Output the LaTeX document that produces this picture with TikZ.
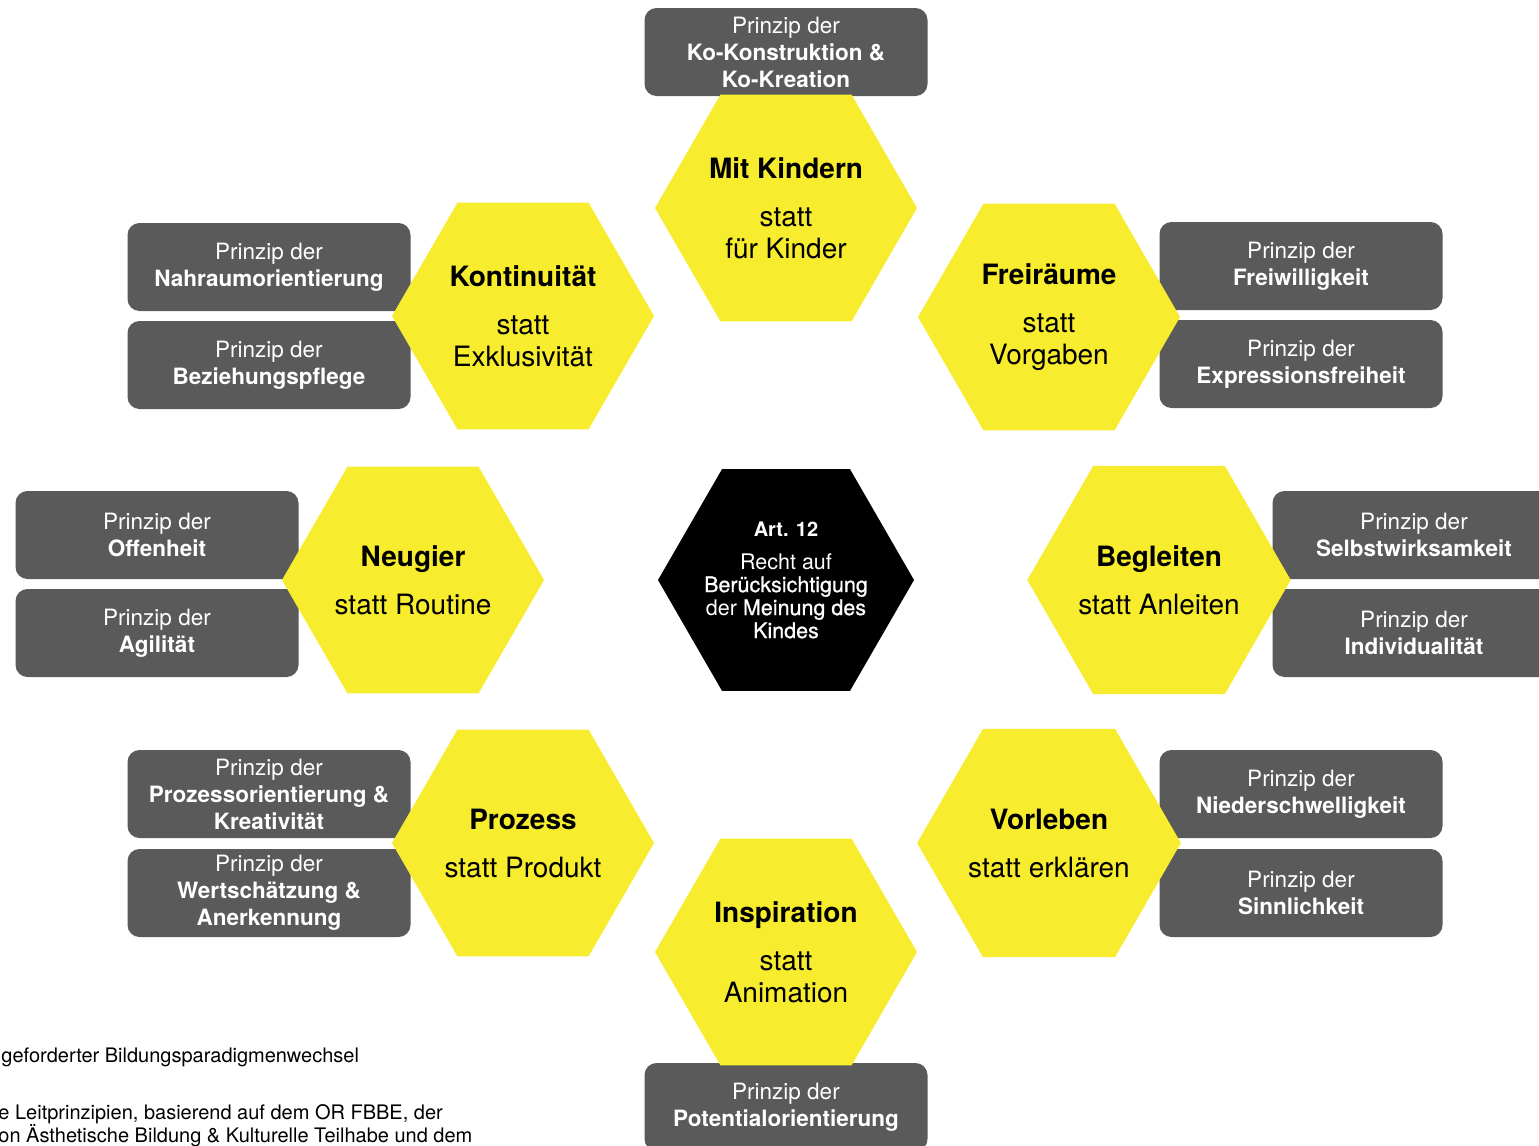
\documentclass[tikz,border=0pt]{standalone}
\usepackage{fontspec}
\setmainfont{TeX Gyre Heros}
\newfontfamily\medfont{TeX Gyre Heros}[FakeBold=0.8]
\usetikzlibrary{shapes.geometric}
\definecolor{hexyellow}{RGB}{247,236,46}
\definecolor{boxgray}{RGB}{90,90,90}
\tikzset{
prinzip/.style={rounded corners=6pt,fill=boxgray,text=white,
  minimum width=141.5pt,minimum height=44pt,inner sep=0pt,align=center,
  font=\fontsize{11.25}{13.5}\selectfont}
}
\begin{document}
\begin{tikzpicture}[x=0.5pt,y=-0.5pt,
hexa/.style={regular polygon,regular polygon sides=6,fill=hexyellow,
  inner sep=0pt,minimum size=131pt,align=center,
  font=\fontsize{14}{16}\selectfont}]
\path[use as bounding box,fill=white] (0,0) rectangle (1539,1146);

\begin{scope}
\tikzstyle{every node}=[prinzip]
\node (pKoKo) at (786,52) {Prinzip der\\\textbf{Ko-Konstruktion \&}\\\textbf{Ko-Kreation}};
\node (pNah) at (269,267) {Prinzip der\\\textbf{Nahraumorientierung}};
\node (pBez) at (269,365) {Prinzip der\\\textbf{Beziehungspflege}};
\node (pFrei) at (1301,266) {Prinzip der\\\textbf{Freiwilligkeit}};
\node (pExp) at (1301,364) {Prinzip der\\\textbf{Expressionsfreiheit}};
\node (pOff) at (157,535) {Prinzip der\\\textbf{Offenheit}};
\node (pAgi) at (157,633) {Prinzip der\\\textbf{Agilität}};
\node (pSelbst) at (1414,535) {Prinzip der\\\textbf{Selbstwirksamkeit}};
\node (pInd) at (1414,633) {Prinzip der\\\textbf{Individualität}};
\node (pProz) at (269,794) {Prinzip der\\\textbf{Prozessorientierung \&}\\\textbf{Kreativität}};
\node (pWert) at (269,893) {Prinzip der\\\textbf{Wertschätzung \&}\\\textbf{Anerkennung}};
\node (pNied) at (1301,794) {Prinzip der\\\textbf{Niederschwelligkeit}};
\node (pSinn) at (1301,893) {Prinzip der\\\textbf{Sinnlichkeit}};
\node (pPot) at (786,1107) {Prinzip der\\\textbf{Potentialorientierung}};
\end{scope}

\node[hexa] (hMit) at (786,208) {\textbf{Mit Kindern}\\[8pt]statt\\für Kinder};
\node[hexa] (hKon) at (523,316) {\textbf{Kontinuität}\\[8pt]statt\\Exklusivität};
\node[hexa] (hFrei) at (1049,317) {\textbf{Freiräume}\\[8pt]statt\\Vorgaben};
\node[hexa] (hNeu) at (413,580) {\textbf{Neugier}\\[8pt]statt Routine};
\node[hexa] (hBeg) at (1159,580) {\textbf{Begleiten}\\[8pt]statt Anleiten};
\node[hexa] (hPro) at (523,843) {\textbf{Prozess}\\[8pt]statt Produkt};
\node[hexa] (hVor) at (1049,843) {\textbf{Vorleben}\\[8pt]statt erklären};
\node[hexa] (hIns) at (786,952) {\textbf{Inspiration}\\[8pt]statt\\Animation};
\node[hexa,fill=black,minimum size=128pt] (hArt) at (786,580) {};
\node[text=white,align=center,inner sep=0pt,font=\fontsize{10.75}{11.5}\selectfont]
  (hArtText) at (hArt) {\textbf{\fontsize{10}{11.5}\selectfont Art. 12}\\[5pt]Recht auf\\{\medfont Berücksichtigung}\\der {\medfont Meinung des}\\{\medfont Kindes}};

\node[anchor=base west,inner sep=0pt,font=\fontsize{10}{11.5}\selectfont]
  (tWechsel) at (1,1062) {geforderter Bildungsparadigmenwechsel};
\node[anchor=base west,inner sep=0pt,align=left,font=\fontsize{10}{11.5}\selectfont]
  (tLeit) at (-2,1142) {e Leitprinzipien, basierend auf dem OR FBBE, der\\on Ästhetische Bildung \& Kulturelle Teilhabe und dem};
\end{tikzpicture}
\end{document}
